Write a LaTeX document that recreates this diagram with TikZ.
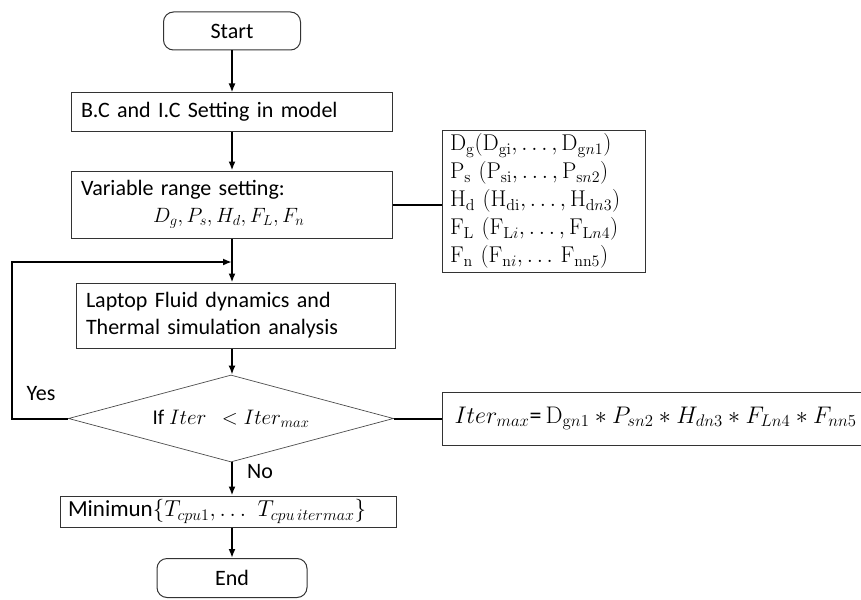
\RequirePackage{fix-cm}
\documentclass[tikz,border=0pt]{standalone}
\usepackage{amsmath}
\usepackage[no-math]{fontspec}
\setmainfont{Carlito}
\usetikzlibrary{shapes.geometric,arrows.meta}

\begin{document}
\begin{tikzpicture}[x=1pt,y=-1pt,font=\fontsize{22}{27}\selectfont,
    box/.style={draw=black!80,line width=1pt,inner xsep=10pt,inner ysep=2pt,align=left},
    term/.style={draw=black!80,line width=1pt,rounded corners=10pt,minimum width=137pt,minimum height=38pt},
    flow/.style={line width=2pt,-{Latex[length=9pt,width=7pt]}},
    link/.style={line width=2pt}]
  \useasboundingbox (0,0) rectangle (861,599);
  \node[term] (start) at (232,31) {Start};
  \node[box,text width=301pt,minimum height=38pt] (bc) at (231.5,112) {B.C and I.C Setting in model};
  \node[box,text width=301pt,minimum height=67pt] (var) at (231.5,204.5)
    {Variable range setting:\\\hspace*{72pt}{\fontsize{20.7}{27}\selectfont$D_g, P_s, H_d, F_L, F_n$}};
  \node[box,text width=187pt,inner xsep=8pt,minimum height=142pt,
    font=\fontsize{22.8}{28}\selectfont] (vars) at (543.5,201)
    {$\mathrm{D_g}(\mathrm{D_{gi}},\dots,\mathrm{D}_{\mathrm{g}n1})$\\
     $\mathrm{P_s}\ (\mathrm{P_{si}},\dots,\mathrm{P}_{\mathrm{s}n2})$\\
     $\mathrm{H_d}\ (\mathrm{H_{di}},\dots,\mathrm{H}_{\mathrm{d}n3})$\\
     $\mathrm{F_L}\ (\mathrm{F}_{\mathrm{L}i},\dots,\mathrm{F}_{\mathrm{L}n4})$\\
     $\mathrm{F_n}\ (\mathrm{F}_{\mathrm{n}i},\dots\,\mathrm{F_{nn5}})$};
  \node[box,text width=299pt,minimum height=65pt] (laptop) at (235.5,315.5)
    {Laptop Fluid dynamics and\\Thermal simulation analysis};
  \node[draw=black!70,line width=0.7pt,diamond,aspect=3.74,minimum width=325pt,minimum height=87pt,
    inner sep=0pt,font=\fontsize{21}{27}\selectfont] (dia) at (231,418.5) {If $Iter\ \ <Iter_{max}$};
  \node[box,anchor=west,text width=416pt,inner xsep=12pt,minimum height=53pt,
    font=\fontsize{24}{27}\selectfont] (itbox) at (442,418.5)
    {$Iter_{max}$=\,$\mathrm{D}_{\mathrm{g}n1}*P_{sn2}*H_{dn3}*F_{Ln4}*F_{nn5}$};
  \node[box,text width=320pt,inner xsep=8pt,minimum height=31pt,
    font=\fontsize{23}{27}\selectfont] (min) at (228,511.5)
    {Minimun$\{T_{cpu1},\dots\ T_{cpu\,itermax}\}$};
  \node[term,minimum width=150pt,minimum height=39pt] (stop) at (232,578) {End};
  \node (yes) at (41,394) {Yes};
  \node (no) at (260,472) {No};
  \coordinate (back) at (12,262);
  \draw[flow] (start) -- (start |- bc.north);
  \draw[flow] (bc.south -| start) -- (start |- var.north);
  \draw[flow] (var.south -| start) -- (start |- laptop.north);
  \draw[flow] (laptop.south -| start) -- (start |- dia.north);
  \draw[flow] (dia.south -| start) -- (start |- min.north);
  \draw[flow] (min.south -| start) -- (start |- stop.north);
  \draw[flow] (dia.west) -| (back) -- (back -| start);
  \draw[link] (var.east) -- (var.east -| vars.west);
  \draw[link] (dia.east) -- (dia.east -| itbox.west);
\end{tikzpicture}
\end{document}
